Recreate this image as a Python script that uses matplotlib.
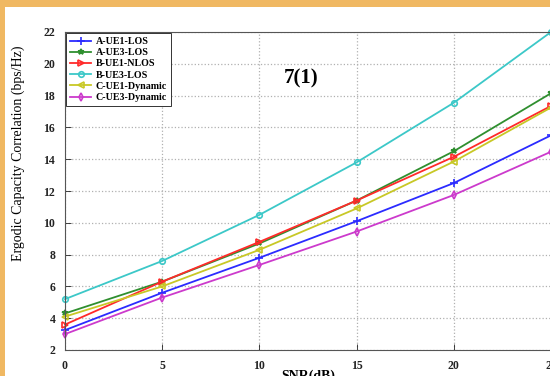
import matplotlib
matplotlib.use("Agg")
import matplotlib.pyplot as plt
from matplotlib.patches import Rectangle

snr = [0, 5, 10, 15, 20, 25]
a_ue1_los = [3.25, 5.6, 7.8, 10.1, 12.5, 15.5]
a_ue3_los = [4.3, 6.3, 8.7, 11.4, 14.5, 18.15]
b_ue1_nlos = [3.6, 6.3, 8.8, 11.4, 14.15, 17.35]
b_ue3_los = [5.2, 7.6, 10.5, 13.8, 17.55, 22.0]
c_ue1_dyn = [4.1, 6.0, 8.3, 10.9, 13.85, 17.25]
c_ue3_dyn = [3.0, 5.3, 7.35, 9.45, 11.75, 14.47]

labels = ["A-UE1-LOS", "A-UE3-LOS", "B-UE1-NLOS", "B-UE3-LOS",
          "C-UE1-Dynamic", "C-UE3-Dynamic"]
series = [a_ue1_los, a_ue3_los, b_ue1_nlos, b_ue3_los, c_ue1_dyn, c_ue3_dyn]
colors = ["#2b2bff", "#2f8f2f", "#ff2a2a", "#3cc8c8", "#c8c826", "#cc3acc"]
markers = ["+", "*", ">", "o", "<", "d"]
msizes = [6, 4, 5, 4, 5, 4]

W, H = 550, 376
fig = plt.figure(figsize=(W / 100, H / 100), dpi=100)
fig.patch.set_facecolor("white")

serif = ["Liberation Serif", "DejaVu Serif"]

ax = fig.add_axes([65 / W, (H - 350) / H, (551 - 65) / W, (350 - 32) / H])
for y, lab, c, m, ms in zip(series, labels, colors, markers, msizes):
    ax.plot(snr, y, color=c, marker=m, markersize=ms, linewidth=1.3,
            markerfacecolor="none" if m in ("o", "d", ">", "<") else c,
            markeredgewidth=1.2, label=lab, clip_on=False)

ax.set_xlim(0, 25)
ax.set_ylim(2, 22)
ax.set_xticks([0, 5, 10, 15, 20, 25])
ax.set_yticks(range(2, 23, 2))
ax.grid(True, linestyle=":", color="#b0b0b0", linewidth=0.9)
ax.tick_params(direction="in", length=4, width=0.6, pad=7, colors="#222222")
for lbl in ax.get_xticklabels() + ax.get_yticklabels():
    lbl.set_fontfamily(serif)
    lbl.set_fontweight("bold")
    lbl.set_fontsize(8.5)
for sp in ax.spines.values():
    sp.set_color("#555555")
    sp.set_linewidth(0.8)

ax.set_xlabel("SNR(dB)", fontfamily=serif, fontweight="bold", fontsize=10)
ax.xaxis.set_label_coords(0.5, -0.062)
ax.xaxis.label.set_va("top")
ax.set_ylabel("Ergodic Capacity Correlation (bps/Hz)", fontfamily=serif,
              fontsize=10)
ax.yaxis.set_label_coords(-0.097, 0.62)
ax.yaxis.label.set_va("center")

ax.text(0.485, 0.855, "7(1)", transform=ax.transAxes, ha="center", va="center",
        fontfamily=serif, fontweight="bold", fontsize=15)

leg = ax.legend(loc="upper left", bbox_to_anchor=(0.0, 1.0), frameon=True,
                fancybox=False, edgecolor="#333333", framealpha=1,
                prop={"family": serif, "weight": "bold", "size": 7.2},
                handlelength=2.1, labelspacing=0.22, borderpad=0.4,
                handletextpad=0.5, borderaxespad=0.1)
leg.get_frame().set_linewidth(0.7)

# orange border strips
fig.patches.append(Rectangle((0, 0), 5 / W, 1, transform=fig.transFigure,
                             facecolor="#f0b862", edgecolor="none", zorder=10))
fig.patches.append(Rectangle((0, 1 - 7 / H), 1, 7 / H, transform=fig.transFigure,
                             facecolor="#f0b862", edgecolor="none", zorder=10))

fig.savefig("out.png", dpi=100)
